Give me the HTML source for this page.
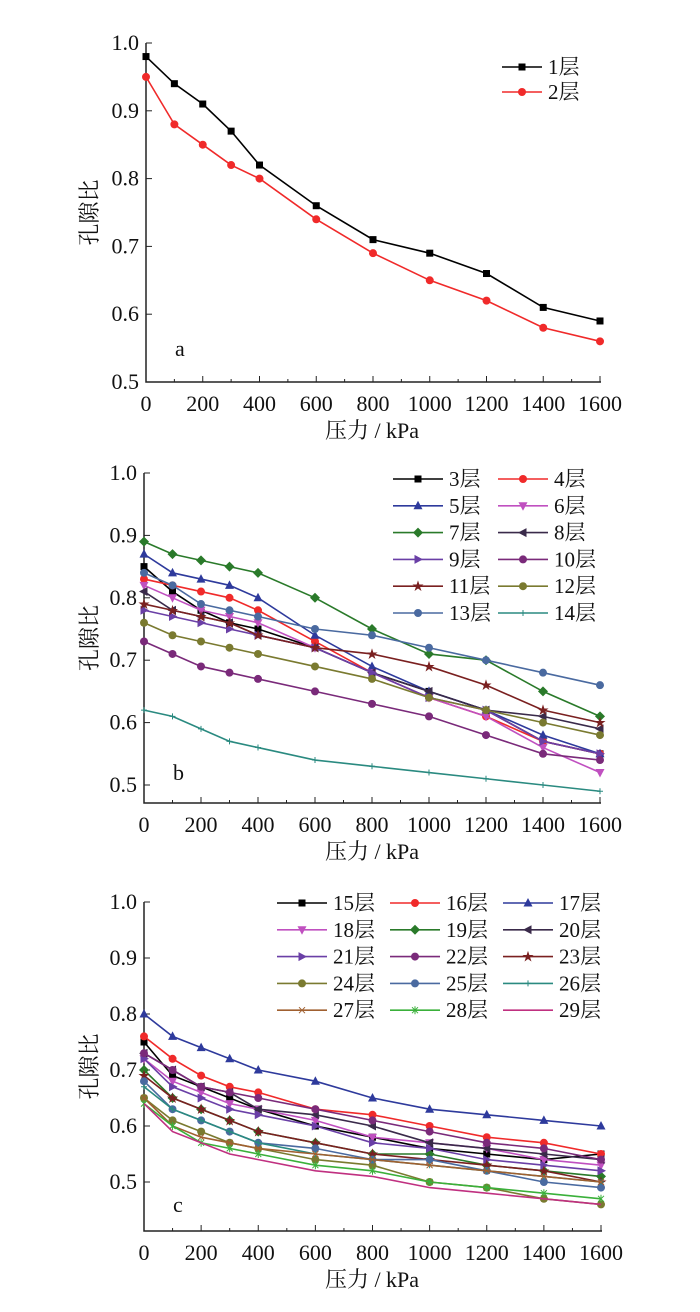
<!DOCTYPE html>
<html><head><meta charset="utf-8"><style>
body{margin:0;background:#fff}
svg{display:block;font-family:"Liberation Serif","Noto Serif CJK SC",serif}
</style></head><body>
<svg id="chart" width="700" height="1312" viewBox="0 0 700 1312" xmlns="http://www.w3.org/2000/svg"></svg>
<script>
const pressures=[0,100,200,300,400,600,800,1000,1200,1400,1600];
const xTicks=[0,200,400,600,800,1000,1200,1400,1600];
const yTicks=[0.5,0.6,0.7,0.8,0.9,1.0];
const namesA=["1层","2层"];
const valuesA=[
[0.98,0.94,0.91,0.87,0.82,0.76,0.71,0.69,0.66,0.61,0.59],
[0.95,0.88,0.85,0.82,0.80,0.74,0.69,0.65,0.62,0.58,0.56]];
const namesB=["3层","4层","5层","6层","7层","8层","9层","10层","11层","12层","13层","14层"];
const valuesB=[
[0.85,0.81,0.78,0.76,0.75,0.72,0.68,0.65,0.62,0.57,0.55],
[0.83,0.82,0.81,0.80,0.78,0.73,0.68,0.64,0.61,0.57,0.55],
[0.87,0.84,0.83,0.82,0.80,0.74,0.69,0.65,0.62,0.58,0.55],
[0.82,0.80,0.78,0.77,0.76,0.72,0.68,0.64,0.61,0.56,0.52],
[0.89,0.87,0.86,0.85,0.84,0.80,0.75,0.71,0.70,0.65,0.61],
[0.81,0.78,0.77,0.76,0.74,0.72,0.68,0.65,0.62,0.61,0.59],
[0.78,0.77,0.76,0.75,0.74,0.72,0.68,0.64,0.62,0.57,0.55],
[0.73,0.71,0.69,0.68,0.67,0.65,0.63,0.61,0.58,0.55,0.54],
[0.79,0.78,0.77,0.76,0.74,0.72,0.71,0.69,0.66,0.62,0.60],
[0.76,0.74,0.73,0.72,0.71,0.69,0.67,0.64,0.62,0.60,0.58],
[0.84,0.82,0.79,0.78,0.77,0.75,0.74,0.72,0.70,0.68,0.66],
[0.62,0.61,0.59,0.57,0.56,0.54,0.53,0.52,0.51,0.50,0.49]];
const namesC=["15层","16层","17层","18层","19层","20层","21层","22层","23层","24层","25层","26层","27层","28层","29层"];
const valuesC=[
[0.75,0.69,0.67,0.65,0.63,0.60,0.58,0.56,0.55,0.54,0.55],
[0.76,0.72,0.69,0.67,0.66,0.63,0.62,0.60,0.58,0.57,0.55],
[0.80,0.76,0.74,0.72,0.70,0.68,0.65,0.63,0.62,0.61,0.60],
[0.72,0.68,0.66,0.64,0.63,0.61,0.58,0.57,0.56,0.54,0.53],
[0.70,0.65,0.63,0.61,0.59,0.57,0.55,0.55,0.53,0.52,0.51],
[0.73,0.70,0.67,0.66,0.63,0.62,0.60,0.57,0.56,0.55,0.54],
[0.72,0.67,0.65,0.63,0.62,0.60,0.57,0.56,0.54,0.53,0.52],
[0.73,0.70,0.67,0.66,0.65,0.63,0.61,0.59,0.57,0.56,0.54],
[0.69,0.65,0.63,0.61,0.59,0.57,0.55,0.54,0.53,0.52,0.50],
[0.65,0.61,0.59,0.57,0.56,0.54,0.53,0.50,0.49,0.47,0.46],
[0.68,0.63,0.61,0.59,0.57,0.56,0.54,0.54,0.52,0.50,0.49],
[0.67,0.63,0.61,0.59,0.57,0.55,0.54,0.53,0.52,0.51,0.50],
[0.65,0.60,0.58,0.57,0.56,0.55,0.54,0.53,0.52,0.51,0.50],
[0.64,0.60,0.57,0.56,0.55,0.53,0.52,0.50,0.49,0.48,0.47],
[0.64,0.59,0.57,0.55,0.54,0.52,0.51,0.49,0.48,0.47,0.46]];

const stylesA=[["#000","sq"],["#f02a2a","ci"]];
const stylesB=[["#000","sq"],["#f02a2a","ci"],["#2e3a9c","tu"],["#c050c0","td"],["#2a7a2a","di"],["#3a2a4a","tl"],["#6a3fa6","tr"],["#7a2a7a","ci"],["#7a2020","st"],["#7a7a30","ci"],["#4a6aa0","ci"],["#2a8a80","pl"]];
const stylesC=[["#000","sq"],["#f02a2a","ci"],["#2e3a9c","tu"],["#c050c0","td"],["#2a7a2a","di"],["#3a2a4a","tl"],["#6a3fa6","tr"],["#7a2a7a","ci"],["#7a2020","st"],["#7a7a30","ci"],["#4a6aa0","ci"],["#2a8a80","pl"],["#a06030","x"],["#3ab03a","as"],["#c03080","no"]];

const NS="http://www.w3.org/2000/svg";
const svg=document.getElementById('chart');
function mk(tag,attrs,parent){const e=document.createElementNS(NS,tag);for(const k in attrs)e.setAttribute(k,attrs[k]);(parent||svg).appendChild(e);return e;}
function marker(g,kind,x,y,c){
  let e=null;const s=3.5;
  if(kind==="sq")e=mk('rect',{x:x-s,y:y-s,width:2*s,height:2*s,fill:c},g);
  else if(kind==="ci")e=mk('circle',{cx:x,cy:y,r:4,fill:c},g);
  else if(kind==="tu")e=mk('polygon',{points:`${x},${y-5} ${x-4.5},${y+3.5} ${x+4.5},${y+3.5}`,fill:c},g);
  else if(kind==="td")e=mk('polygon',{points:`${x},${y+5} ${x-4.5},${y-3.5} ${x+4.5},${y-3.5}`,fill:c},g);
  else if(kind==="tl")e=mk('polygon',{points:`${x-5},${y} ${x+3.5},${y-4.5} ${x+3.5},${y+4.5}`,fill:c},g);
  else if(kind==="tr")e=mk('polygon',{points:`${x+5},${y} ${x-3.5},${y-4.5} ${x-3.5},${y+4.5}`,fill:c},g);
  else if(kind==="di")e=mk('polygon',{points:`${x},${y-5} ${x+5},${y} ${x},${y+5} ${x-5},${y}`,fill:c},g);
  else if(kind==="st")e=mk('text',{x:x,y:y+4,'text-anchor':'middle','font-size':12,fill:c},g),e.textContent="★";
  else if(kind==="pl")e=mk('path',{d:`M${x-3} ${y}H${x+3}M${x} ${y-3}V${y+3}`,stroke:c,'stroke-width':1},g);
  else if(kind==="x")e=mk('path',{d:`M${x-3} ${y-3}L${x+3} ${y+3}M${x-3} ${y+3}L${x+3} ${y-3}`,stroke:c,'stroke-width':1},g);
  else if(kind==="as")e=mk('path',{d:`M${x-3} ${y-3}L${x+3} ${y+3}M${x-3} ${y+3}L${x+3} ${y-3}M${x} ${y-4}V${y+4}`,stroke:c,'stroke-width':1},g);
  if(e){}
}
function panel(cfg){
  const {id,x0,x1,yTop,y1px,y05px,yBot,names,values,styles,legend,letter,letterY}=cfg;
  const g=mk('g',{});
  
  
  const sx=v=>x0+(x1-x0)*v/1600;
  const sy=v=>y05px+(v-0.5)*(y1px-y05px)/0.5;
  const ax=mk('path',{d:`M${x0} ${yTop}V${yBot}H${x1+1}`,stroke:'#222',fill:'none','stroke-width':1.5},g);
  
  
  for(let v=0;v<=1600;v+=100){
    const t=mk('line',{x1:sx(v),x2:sx(v),y1:yBot,y2:yBot-(v%200===0?6:3),stroke:'#222','stroke-width':1},g);
    
    
  }
  xTicks.forEach(v=>{
    const t=mk('text',{x:sx(v),y:yBot+29,'text-anchor':'middle','font-size':22,fill:'#111'},g);
    t.textContent=v;
    
    
  });
  yTicks.forEach(v=>{
    const t=mk('line',{x1:x0,x2:x0+6,y1:sy(v),y2:sy(v),stroke:'#222','stroke-width':1},g);
    
    
    const l=mk('text',{x:x0-7,y:sy(v)+7,'text-anchor':'end','font-size':22,fill:'#111'},g);
    l.textContent=v.toFixed(1);
    
    
  });
  const yt=mk('text',{transform:`translate(97,${(yTop+yBot)/2}) rotate(-90)`,'text-anchor':'middle','font-size':22,fill:'#111'},g);
  yt.textContent="孔隙比";
  
  
  const xt=mk('text',{x:372,y:yBot+56,'text-anchor':'middle','font-size':22,fill:'#111'},g);
  xt.textContent="压力 / kPa";
  
  
  const lt=mk('text',{x:x0+29,y:letterY,'font-size':22,fill:'#111'},g);
  lt.textContent=letter;
  
  
  values.forEach((vals,i)=>{
    const [c,k]=styles[i];
    const sg=mk('g',{},g);
    
    
    const pl=mk('polyline',{points:vals.map((v,j)=>sx(pressures[j])+','+sy(v)).join(' '),fill:'none',stroke:c,'stroke-width':1.6},sg);
    
    
    vals.forEach((v,j)=>marker(sg,k,sx(pressures[j]),sy(v),c));
  });
  names.forEach((n,i)=>{
    const col=i%legend.cols,row=Math.floor(i/legend.cols);
    const lx=legend.lineX[col],y=legend.y0+row*legend.dy;
    const lg=mk('g',{},g);
    
    
    const [c,k]=styles[i];
    mk('line',{x1:lx,x2:lx+legend.len,y1:y,y2:y,stroke:c,'stroke-width':1.6},lg);
    marker(lg,k,lx+legend.len/2,y,c);
    const t=mk('text',{x:lx+legend.len+6,y:y+7,'font-size':21,fill:'#111'},lg);
    t.textContent=n;
  });
}
panel({id:'a',x0:146,x1:600,yTop:43,y1px:43,y05px:382,yBot:382,names:namesA,values:valuesA,styles:stylesA,
  legend:{cols:1,lineX:[502],len:40,y0:67,dy:25},letter:'a',letterY:356});
panel({id:'b',x0:144,x1:600,yTop:473,y1px:473,y05px:785,yBot:803,names:namesB,values:valuesB,styles:stylesB,
  legend:{cols:2,lineX:[393,498],len:50,y0:479,dy:26.8},letter:'b',letterY:780});
panel({id:'c',x0:144,x1:601,yTop:902,y1px:902,y05px:1182,yBot:1231,names:namesC,values:valuesC,styles:stylesC,
  legend:{cols:3,lineX:[277,390,503],len:50,y0:903,dy:26.8},letter:'c',letterY:1212});
</script>
</body></html>
